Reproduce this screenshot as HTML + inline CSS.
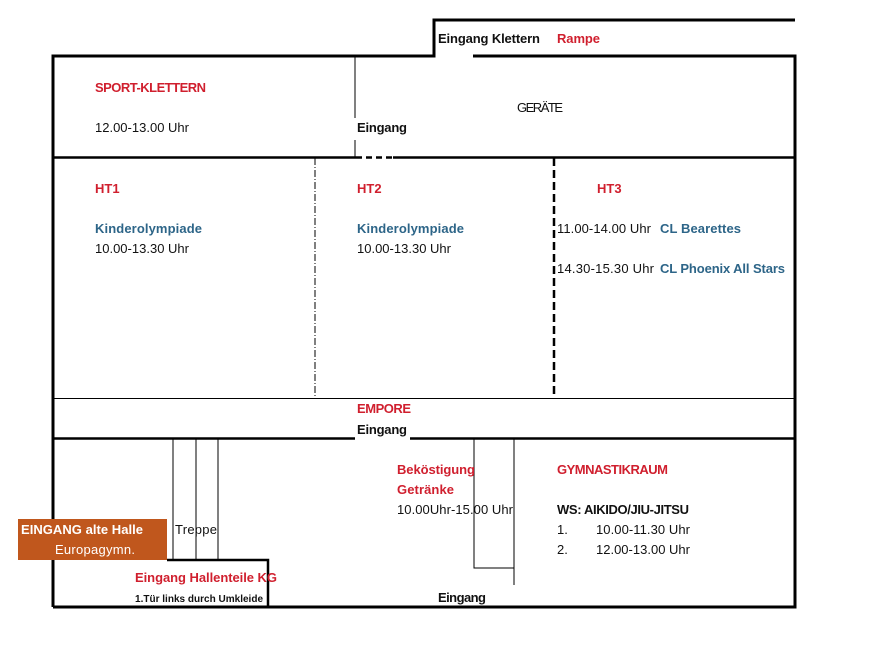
<!DOCTYPE html>
<html><head><meta charset="utf-8"><style>
html,body{margin:0;padding:0;background:#fff}
svg{display:block}
text{font-family:"Liberation Sans",sans-serif;font-size:13px;fill:#111}
.b{font-weight:bold}
.r{fill:#d01f2e;font-weight:bold}
.bl{fill:#2d6588;font-weight:bold}
</style></head><body>
<svg width="886" height="648" viewBox="0 0 886 648" xmlns="http://www.w3.org/2000/svg">
<g stroke="#000" fill="none">
<path d="M53 607 V56 H434 V20 H795" stroke-width="3"/>
<path d="M473 56 H795 V607 H53" stroke-width="3"/>
<path d="M53 157.5 H356 M393 157.5 H795" stroke-width="2.5"/>
<path d="M356 157.5 H393" stroke-width="2.5" stroke-dasharray="6,4"/>
<path d="M355 56 V118 M355 140 V157" stroke-width="1"/>
<path d="M315 158 V398" stroke-width="1" stroke-dasharray="7,2,1,2"/>
<path d="M554 158 V398" stroke-width="2.5" stroke-dasharray="8,4"/>
<path d="M53 398.5 H795" stroke-width="1"/>
<path d="M53 438.5 H355 M410 438.5 H795" stroke-width="2.5"/>
<path d="M173 438 V560 M196 438 V560 M218 438 V560" stroke-width="1"/>
<path d="M167 560 H268 V607" stroke-width="2.5"/>
<path d="M474 438 V568 H514 M514 438 V585" stroke-width="1"/>
</g>
<rect x="18" y="519" width="149" height="41" fill="#c0571d"/>
<text x="438" y="43" class="b" textLength="102">Eingang Klettern</text>
<text x="557" y="43" class="r" textLength="43">Rampe</text>
<text x="95" y="92" class="r" textLength="111">SPORT-KLETTERN</text>
<text x="95" y="132" textLength="94">12.00-13.00 Uhr</text>
<text x="517" y="112" textLength="46">GERÄTE</text>
<text x="357" y="132" class="b" textLength="50">Eingang</text>
<text x="95" y="193" class="r">HT1</text>
<text x="357" y="193" class="r">HT2</text>
<text x="597" y="193" class="r">HT3</text>
<text x="95" y="233" class="bl" textLength="107">Kinderolympiade</text>
<text x="95" y="253" textLength="94">10.00-13.30 Uhr</text>
<text x="357" y="233" class="bl" textLength="107">Kinderolympiade</text>
<text x="357" y="253" textLength="94">10.00-13.30 Uhr</text>
<text x="557" y="233" textLength="94">11.00-14.00 Uhr</text>
<text x="660" y="233" class="bl" textLength="81">CL Bearettes</text>
<text x="557" y="273" textLength="97">14.30-15.30  Uhr</text>
<text x="660" y="273" class="bl" textLength="125">CL Phoenix All Stars</text>
<text x="357" y="413" class="r" textLength="54">EMPORE</text>
<text x="357" y="434" class="b" textLength="50">Eingang</text>
<text x="397" y="474" class="r" textLength="78">Beköstigung</text>
<text x="397" y="494" class="r" textLength="57">Getränke</text>
<text x="397" y="514" textLength="116">10.00Uhr-15.00 Uhr</text>
<text x="557" y="474" class="r" textLength="111">GYMNASTIKRAUM</text>
<text x="557" y="514" class="b" textLength="132">WS: AIKIDO/JIU-JITSU</text>
<text x="557" y="534">1.</text>
<text x="596" y="534" textLength="94">10.00-11.30 Uhr</text>
<text x="557" y="554">2.</text>
<text x="596" y="554" textLength="94">12.00-13.00 Uhr</text>
<text x="21" y="534" class="b" textLength="122" style="fill:#fff">EINGANG alte Halle</text>
<text x="55" y="554" textLength="80" style="fill:#fff">Europagymn.</text>
<text x="175" y="534" textLength="42">Treppe</text>
<text x="135" y="582" class="r" textLength="142">Eingang Hallenteile KG</text>
<text x="135" y="602" class="b" textLength="128" style="font-size:10px">1.Tür links durch Umkleide</text>
<text x="438" y="602" class="b" textLength="48">Eingang</text>
</svg>
</body></html>
